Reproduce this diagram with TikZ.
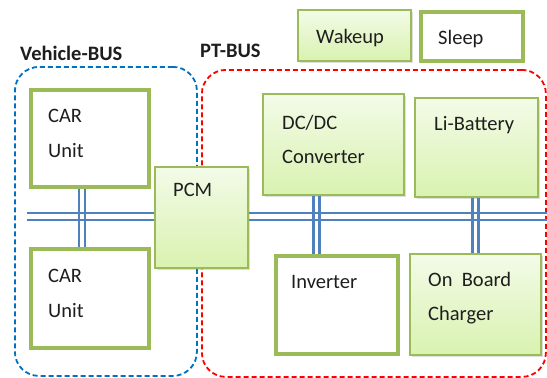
\documentclass[tikz,border=0pt]{standalone}
\usepackage{fontspec}
\setmainfont{Carlito}
\usetikzlibrary{shadows}
\definecolor{boxgreen}{HTML}{9BBB59}
\definecolor{filltop}{HTML}{F3FBE8}
\definecolor{fillbot}{HTML}{D9F2B0}
\definecolor{busblue}{HTML}{4F81BD}
\definecolor{regblue}{HTML}{0070C0}
\definecolor{regred}{HTML}{FF0000}
\definecolor{txt}{HTML}{1E1E1E}
\begin{document}
\begin{tikzpicture}[
    x=1pt, y=-1pt,
    ecu/.style={rectangle, draw=boxgreen, line width=1.6pt, top color=filltop, bottom color=fillbot,
        drop shadow={opacity=0.25, shadow xshift=2pt, shadow yshift=-2.5pt}, anchor=north west, inner sep=0pt},
    plainecu/.style={rectangle, draw=boxgreen, line width=4pt, fill=white, anchor=north west, inner sep=0pt},
    lbl/.style={anchor=north west, align=left, inner sep=0pt, text=txt, font=\fontsize{20.5}{34.5}\selectfont},
    buslbl/.style={anchor=west, inner sep=0pt, text=txt, font=\fontsize{20.5}{24}\selectfont\bfseries},
    region/.style={rectangle, dashed, dash pattern=on 5pt off 3pt, line width=1.8pt, rounded corners=24pt,
        anchor=north west, inner sep=0pt},
    bus/.style={draw=busblue, line width=2.8pt}
]
    \useasboundingbox (0,0) rectangle (547,378);

    % Bus regions
    \node[region, draw=regblue, minimum width=182pt, minimum height=309pt] (vbus) at (14,66) {};
    \node[region, draw=regred, minimum width=344pt, minimum height=307pt] (ptbus) at (201,69) {};
    \node[buslbl] (vbus-t) at (20,53) {Vehicle-BUS};
    \node[buslbl] (ptbus-t) at (200,51) {PT-BUS};

    % Main bus
    \coordinate (busW) at (27,216.5);
    \coordinate (busE) at (547,216.5);
    \foreach \dy in {-3.5,3.5}
        \draw[bus] ([yshift=\dy]busW) -- ([yshift=\dy]busE);

    % Mode boxes
    \node[ecu, minimum width=113pt, minimum height=51pt] (wake) at (297,9) {};
    \node[plainecu, minimum width=102pt, minimum height=49pt] (sleep) at (419,10) {};
    \node[lbl, anchor=west] (wake-t) at ([shift={(19,3)}]wake.west) {Wakeup};
    \node[lbl, anchor=west] (sleep-t) at ([shift={(19,3)}]sleep.west) {Sleep};

    % Vehicle side units
    \node[plainecu, minimum width=118pt, minimum height=97pt] (car1) at (29,88) {};
    \node[plainecu, minimum width=118pt, minimum height=99pt] (car2) at (29,247) {};
    \node[lbl] (car1-t) at ([shift={(19,21)}]car1.north west) {CAR\\Unit};
    \node[lbl] (car2-t) at ([shift={(19,22)}]car2.north west) {CAR\\Unit};

    % Gateway
    \node[ecu, minimum width=93pt, minimum height=101pt] (pcm) at (154,166) {};
    \node[lbl] (pcm-t) at ([shift={(19,17)}]pcm.north west) {PCM};

    % Powertrain units
    \node[ecu, minimum width=141pt, minimum height=101pt] (dcdc) at (262,93) {};
    \node[ecu, minimum width=123pt, minimum height=99pt] (batt) at (414,97) {};
    \node[plainecu, minimum width=122pt, minimum height=98pt] (inv) at (274,254) {};
    \node[ecu, minimum width=131pt, minimum height=101pt] (obc) at (409,253) {};
    \node[lbl] (dcdc-t) at ([shift={(20,22)}]dcdc.north west) {DC/DC\\Converter};
    \node[lbl] (batt-t) at ([shift={(20,19)}]batt.north west) {Li-Battery};
    \node[lbl] (inv-t) at ([shift={(17,21)}]inv.north west) {Inverter};
    \node[lbl] (obc-t) at ([shift={(19,19)}]obc.north west) {On~~Board\\Charger};

    % Stubs to the bus
    \foreach \dx in {-11,-5}
        \draw[bus] ([xshift=\dx]car1.south) -- ([xshift=\dx]car2.north);
    \foreach \dx in {-19.5,-13.5}
        \draw[bus] ([xshift=\dx]dcdc.south) -- ([xshift=\dx]dcdc.south |- inv.north);
    \foreach \dx in {-3.5,2.5}
        \draw[bus] ([xshift=\dx]batt.south) -- ([xshift=\dx]batt.south |- obc.north);

\end{tikzpicture}
\end{document}
